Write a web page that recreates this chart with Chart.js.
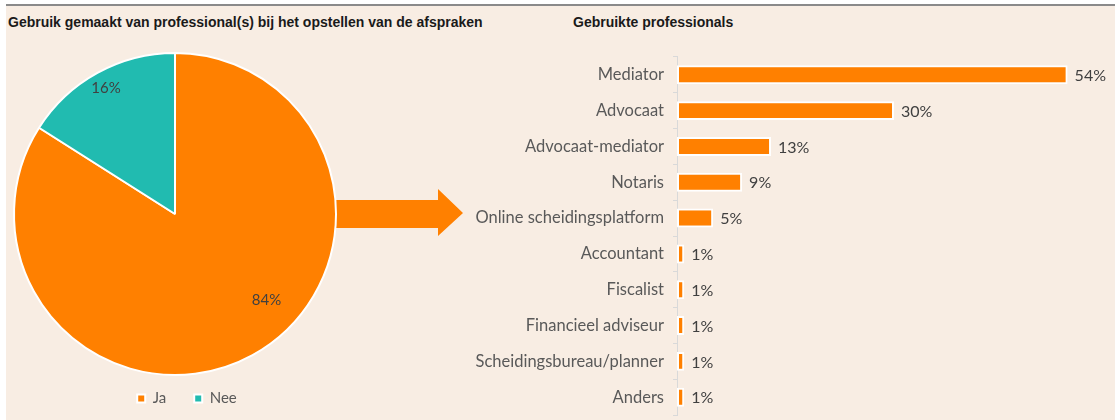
<!DOCTYPE html>
<html>
<head>
<meta charset="utf-8">
<script src="https://cdn.jsdelivr.net/npm/chart.js@4/dist/chart.umd.min.js"></script>
<style>
  body { margin: 0; background: #ffffff; width: 1115px; height: 420px; overflow: hidden; position: relative; }
  #panel { position: absolute; left: 6px; top: 4px; width: 1109px; height: 414px; background: #f8ede3; border-top: 2px solid #8a8a8a; }
  .title { position: absolute; font: bold 14px "Liberation Sans", Arial, sans-serif; color: #1a1a1a; top: 14px; white-space: nowrap; }
  #arrow { position: absolute; left: 320px; top: 189px; width: 143px; height: 47px; background: #ff8000;
           clip-path: polygon(0 11px, 118px 11px, 118px 0, 143px 24px, 118px 47px, 118px 39px, 0 39px); }
  #pieBox { position: absolute; left: 0; top: 40px; width: 350px; height: 380px; }
  #barBox { position: absolute; left: 460px; top: 38px; width: 655px; height: 396px; }
</style>
</head>
<body>
<div id="panel"></div>
<div class="title" style="left:8px">Gebruik gemaakt van professional(s) bij het opstellen van de afspraken</div>
<div class="title" style="left:573px">Gebruikte professionals</div>
<div id="arrow"></div>
<div id="pieBox"><canvas id="pie"></canvas></div>
<div id="barBox"><canvas id="bar"></canvas></div>
<script>
// pie data
var pieLabels = ['Ja', 'Nee'];
var pieValues = [84, 16];
var pieColors = ['#ff8000', '#21bbb0'];

// bar data
var barLabels = ['Mediator', 'Advocaat', 'Advocaat-mediator', 'Notaris', 'Online scheidingsplatform',
  'Accountant', 'Fiscalist', 'Financieel adviseur', 'Scheidingsbureau/planner', 'Anders'];
var barValues = [54, 30, 13, 9, 5, 1, 1, 1, 1, 1];

var labelFont = 'Lato, "Noto Sans", sans-serif';

// where each pie label sits: fraction of radius and angle shift from slice middle
var pieLabelPos = [{ r: 0.78, shift: -18 }, { r: 0.89, shift: 0 }];

var pieLabelPlugin = {
  id: 'pieLabels',
  afterLayout: function(chart) {
    // legend sits a bit right of the pie centre in the original
    chart.legend.left += 12;
    chart.legend.right += 12;
  },
  afterDatasetsDraw: function(chart) {
    var ctx = chart.ctx;
    var meta = chart.getDatasetMeta(0);
    ctx.save();
    ctx.font = '15px ' + labelFont;
    ctx.fillStyle = '#404040';
    ctx.textAlign = 'center';
    ctx.textBaseline = 'middle';
    meta.data.forEach(function(arc, i) {
      var p = arc.getProps(['x', 'y', 'startAngle', 'endAngle', 'outerRadius'], true);
      var a = (p.startAngle + p.endAngle) / 2 + pieLabelPos[i].shift * Math.PI / 180;
      var r = p.outerRadius * pieLabelPos[i].r;
      ctx.fillText(pieValues[i] + '%', p.x + Math.cos(a) * r, p.y + Math.sin(a) * r);
    });
    ctx.restore();
  }
};

var barLabelPlugin = {
  id: 'barLabels',
  afterDatasetsDraw: function(chart) {
    var ctx = chart.ctx;
    var meta = chart.getDatasetMeta(0);
    ctx.save();
    ctx.font = '16px ' + labelFont;
    ctx.fillStyle = '#404040';
    ctx.textAlign = 'left';
    ctx.textBaseline = 'middle';
    meta.data.forEach(function(bar, i) {
      ctx.fillText(barValues[i] + '%', bar.x + 7, bar.y + 1);
    });
    ctx.restore();
  }
};

new Chart(document.getElementById('pie').getContext('2d'), {
  type: 'pie',
  data: {
    labels: pieLabels,
    datasets: [{
      data: pieValues,
      backgroundColor: pieColors,
      borderColor: '#ffffff',
      borderWidth: 2,
      radius: 161
    }]
  },
  options: {
    responsive: true,
    maintainAspectRatio: false,
    animation: false,
    layout: { padding: { top: 25, bottom: 4 } },
    plugins: {
      legend: {
        position: 'bottom',
        labels: {
          boxWidth: 8,
          boxHeight: 8,
          color: '#595959',
          font: { family: labelFont, size: 15 },
          padding: 28
        }
      },
      tooltip: { enabled: false }
    }
  },
  plugins: [pieLabelPlugin]
});

new Chart(document.getElementById('bar').getContext('2d'), {
  type: 'bar',
  data: {
    labels: barLabels,
    datasets: [{
      data: barValues,
      backgroundColor: '#ff8000',
      borderColor: '#ffffff',
      borderWidth: 2,
      borderSkipped: false,
      barPercentage: 0.53,
      categoryPercentage: 1
    }]
  },
  options: {
    indexAxis: 'y',
    responsive: true,
    maintainAspectRatio: false,
    animation: false,
    layout: { padding: { top: 0, bottom: 0, right: 4 } },
    plugins: {
      legend: { display: false },
      tooltip: { enabled: false }
    },
    scales: {
      x: { display: false, min: 0, max: 60 },
      y: {
        afterFit: function(scale) { scale.width = 217; },
        border: { color: '#d9d9d9', width: 1 },
        grid: { drawOnChartArea: false, offset: true, tickLength: 4, color: '#d9d9d9' },
        ticks: { color: '#595959', font: { family: labelFont, size: 16.5 }, padding: 9, autoSkip: false }
      }
    }
  },
  plugins: [barLabelPlugin]
});
</script>
</body>
</html>
